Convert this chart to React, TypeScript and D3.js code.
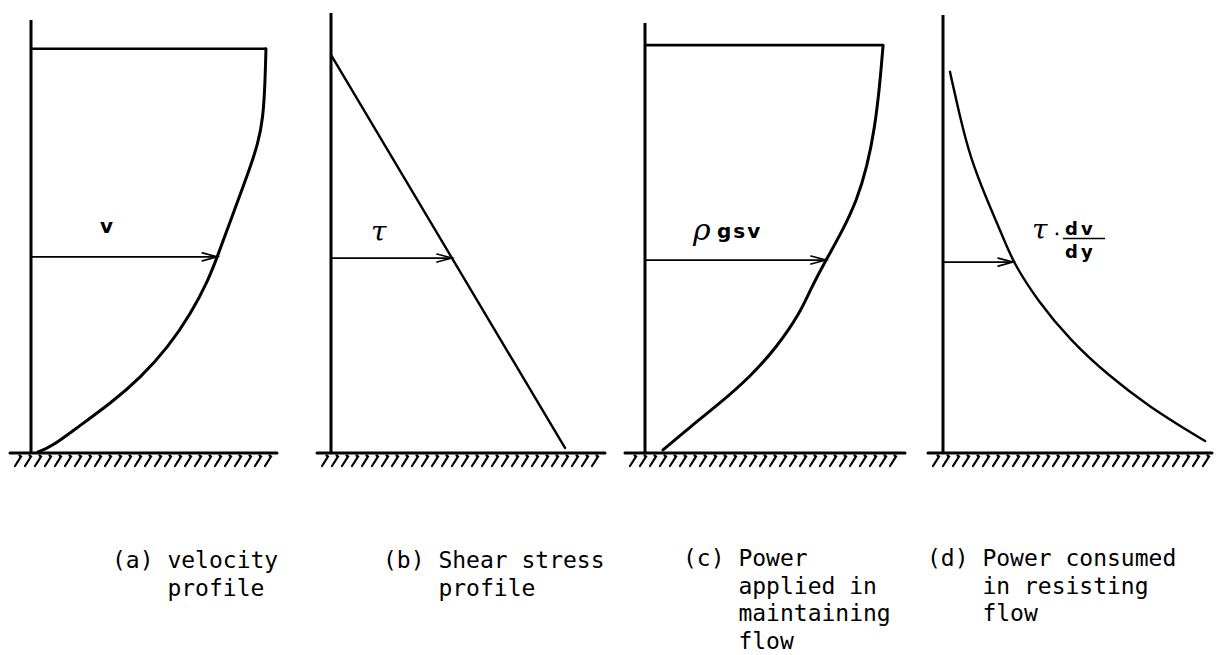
import React from 'react';
import * as d3 from 'd3';

const WIDTH = 1222;
const HEIGHT = 655;

// Relative depth above the bed (0 = bed, 1 = free surface) and the normalised quantity at that depth.
const velocityDepth = [0, 0.012, 0.062, 0.121, 0.185, 0.259, 0.343, 0.425, 0.481, 0.556, 0.63, 0.696, 0.763, 0.827, 0.911, 0.998];
const velocityValue = [0.029, 0.083, 0.196, 0.333, 0.458, 0.571, 0.667, 0.738, 0.775, 0.821, 0.867, 0.908, 0.946, 0.967, 0.975, 0.979];

const shearDepth = [0.01, 0.983];
const shearValue = [0.975, 0];

const powerAppliedDepth = [0.005, 0.062, 0.121, 0.186, 0.26, 0.344, 0.401, 0.475, 0.55, 0.624, 0.705, 0.804, 0.913, 1.007];
const powerAppliedValue = [0.075, 0.188, 0.313, 0.438, 0.55, 0.646, 0.688, 0.754, 0.825, 0.883, 0.925, 0.958, 0.979, 0.992];

const powerConsumedDepth = [0.027, 0.054, 0.111, 0.186, 0.277, 0.376, 0.47, 0.532, 0.624, 0.73, 0.829, 0.941];
const powerConsumedValue = [1.092, 1.017, 0.863, 0.696, 0.529, 0.392, 0.292, 0.25, 0.183, 0.113, 0.071, 0.029];

// Depth at which each profile's sample arrow is drawn.
const arrowDepths = [0.483, 0.48, 0.475, 0.47];

const captionTags = ['(a)', '(b)', '(c)', '(d)'];
const captionLines = [
  ['velocity', 'profile'],
  ['Shear stress', 'profile'],
  ['Power', 'applied in', 'maintaining', 'flow'],
  ['Power consumed', 'in resisting', 'flow'],
];

const BED_Y = 452;
const SURFACE_Y = 48;
const VALUE_SPAN = 240;

const yScale = d3.scaleLinear().domain([0, 1]).range([BED_Y, SURFACE_Y]);

type Panel = {
  depth: number[];
  value: number[];
  axisX: number;
  axisTop: number;
  groundFrom: number;
  groundTo: number;
  surfaceLine: boolean;
  curveWidth: number;
  captionX: number;
  captionY: number;
};

const panels: Panel[] = [
  { depth: velocityDepth, value: velocityValue, axisX: 31, axisTop: 20, groundFrom: 10, groundTo: 277, surfaceLine: true, curveWidth: 3, captionX: 112, captionY: 568 },
  { depth: shearDepth, value: shearValue, axisX: 331, axisTop: 13, groundFrom: 317, groundTo: 605, surfaceLine: false, curveWidth: 2.4, captionX: 383, captionY: 568 },
  { depth: powerAppliedDepth, value: powerAppliedValue, axisX: 645, axisTop: 23, groundFrom: 625, groundTo: 905, surfaceLine: true, curveWidth: 3, captionX: 683, captionY: 566 },
  { depth: powerConsumedDepth, value: powerConsumedValue, axisX: 943, axisTop: 15, groundFrom: 928, groundTo: 1212, surfaceLine: false, curveWidth: 2.4, captionX: 927, captionY: 566 },
];

const MONO = '"DejaVu Sans Mono", monospace';
const SANS = '"DejaVu Sans", sans-serif';
const SERIF = '"DejaVu Serif", serif';
const CHAR_ADVANCE = 13.85;

function Hatching({ from, to }: { from: number; to: number }) {
  const xs = d3.range(from + 8, to - 2, 10);
  return (
    <g stroke="#000" strokeWidth={2.2} strokeLinecap="round">
      <line x1={from} x2={to} y1={BED_Y + 1} y2={BED_Y + 1} strokeWidth={3} />
      {xs.map((x, i) => (
        <path key={i} d={`M${x + 1.5},${BED_Y + 3.5} L${x + 3},${BED_Y + 4.5} L${x - 3},${BED_Y + 14}`} fill="none" />
      ))}
    </g>
  );
}

function Arrow({ x0, x1, y }: { x0: number; x1: number; y: number }) {
  return (
    <g stroke="#000" strokeWidth={1.6} fill="none" strokeLinecap="round">
      <line x1={x0} x2={x1} y1={y} y2={y} />
      <path d={`M${x1 - 15},${y - 4} L${x1},${y} L${x1 - 15},${y + 4}`} />
    </g>
  );
}

export default function App() {
  const line = d3
    .line<[number, number]>()
    .x((d) => d[0])
    .y((d) => d[1])
    .curve(d3.curveBasis);

  return (
    <svg
      width={WIDTH}
      height={HEIGHT}
      viewBox={`0 0 ${WIDTH} ${HEIGHT}`}
      style={{ position: 'fixed', left: 0, top: 0, background: '#fff' }}
    >
      <rect width={WIDTH} height={HEIGHT} fill="#fff" />
      {panels.map((p, i) => {
        const xScale = d3.scaleLinear().domain([0, 1]).range([p.axisX, p.axisX + VALUE_SPAN]);
        const pts: [number, number][] = p.depth.map((dep, k) => [xScale(p.value[k]), yScale(dep)]);
        const valueAt = d3.scaleLinear().domain(p.depth).range(p.value);
        const ad = arrowDepths[i];
        const ay = yScale(ad);
        const ax = xScale(valueAt(ad));
        const top = pts[pts.length - 1];
        return (
          <g key={i}>
            <line x1={p.axisX} x2={p.axisX} y1={p.axisTop} y2={BED_Y} stroke="#000" strokeWidth={3} />
            {p.surfaceLine && (
              <line x1={p.axisX} x2={top[0]} y1={top[1]} y2={top[1]} stroke="#000" strokeWidth={2.6} />
            )}
            <path d={line(pts) ?? ''} fill="none" stroke="#000" strokeWidth={p.curveWidth} strokeLinecap="round" />
            <Arrow x0={p.axisX} x1={ax} y={ay} />
            <Hatching from={p.groundFrom} to={p.groundTo} />
            <g fontFamily={MONO} fontSize={23} fill="#000">
              <text x={p.captionX} y={p.captionY}>{captionTags[i]}</text>
              {captionLines[i].map((t, k) => (
                <text key={k} x={p.captionX + 4 * CHAR_ADVANCE} y={p.captionY + k * 27.5} style={{ whiteSpace: 'pre' }}>
                  {t}
                </text>
              ))}
            </g>
          </g>
        );
      })}

      {/* quantity labels above the sample arrows */}
      <text x={100} y={233} fontFamily={SANS} fontSize={20} fontWeight="bold" fill="#000">v</text>
      <text x={371} y={241} fontFamily={SERIF} fontStyle="italic" fontSize={28} fill="#000">τ</text>
      <g fill="#000">
        <text x={693} y={240} fontFamily={SERIF} fontStyle="italic" fontSize={30}>ρ</text>
        <text x={717} y={238} fontFamily={SANS} fontSize={20} fontWeight="bold" letterSpacing={2}>gsv</text>
      </g>
      <g fill="#000">
        <text x={1032} y={239} fontFamily={SERIF} fontStyle="italic" fontSize={28}>τ</text>
        <circle cx={1057} cy={234} r={1.4} />
        <text x={1065} y={235} fontFamily={SANS} fontSize={18} fontWeight="bold" letterSpacing={3}>dv</text>
        <line x1={1063} x2={1105} y1={238.5} y2={238.5} stroke="#000" strokeWidth={1.6} />
        <text x={1065} y={258} fontFamily={SANS} fontSize={18} fontWeight="bold" letterSpacing={3}>dy</text>
      </g>
    </svg>
  );
}
